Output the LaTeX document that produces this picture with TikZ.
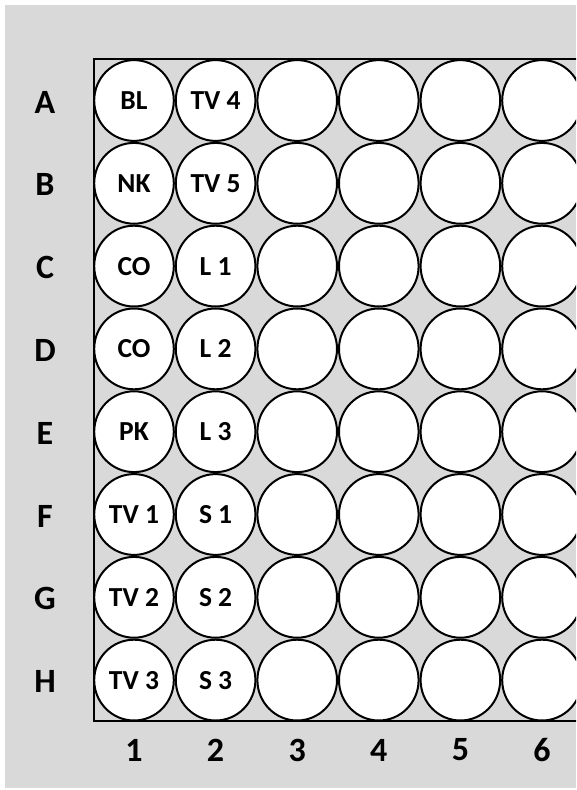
\documentclass[tikz,border=0pt]{standalone}
\usepackage{fontspec}
\setmainfont{Carlito}
\usetikzlibrary{shapes.geometric}
\definecolor{bggray}{HTML}{D9D9D9}
\begin{document}
\begin{tikzpicture}[x=1pt,y=-1pt,
  well/.style={ellipse, draw=black, line width=2pt, fill=white,
    minimum width=79.6pt, minimum height=80.8pt, inner sep=0pt,
    font=\bfseries\fontsize{27.5}{27.5}\selectfont},
  lab/.style={inner sep=0pt, font=\bfseries\fontsize{34}{34}\selectfont},
  plate/.style={draw=black, line width=2pt}]
\useasboundingbox (0,0) rectangle (576,790);
\fill[white] (0,0) rectangle (576,790);
\fill[bggray] (5,5) rectangle (576,788);
\clip (0,0) rectangle (576,790);
\draw[plate] (94,59) rectangle (620,721);
% row labels
\foreach \r [count=\i from 0] in {A,B,C,D,E,F,G,H}{
  \node[lab] (row\r) at (45,{102+82.8*\i}) {\r};
}
% column labels
\foreach \c in {1,...,6}{
  \node[lab] (col\c) at ({134+81.6*(\c-1)},750) {\c};
}
% column 1
\foreach \t [count=\i from 0] in {BL,NK,CO,CO,PK,TV 1,TV 2,TV 3}{
  \node[well] (w\i-1) at (134,{100.5+82.8*\i}) {\t};
}
% column 2
\foreach \t [count=\i from 0] in {TV 4,TV 5,L 1,L 2,L 3,S 1,S 2,S 3}{
  \node[well] (w\i-2) at (215.6,{100.5+82.8*\i}) {\t};
}
% empty wells
\foreach \c in {3,...,6}{
  \foreach \i in {0,...,7}{
    \node[well] (w\i-\c) at ({134+81.6*(\c-1)},{100.5+82.8*\i}) {};
  }
}
\end{tikzpicture}
\end{document}
